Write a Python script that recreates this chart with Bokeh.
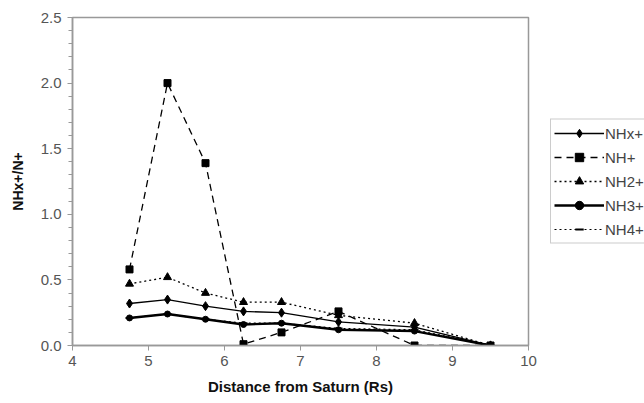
from bokeh.plotting import figure
from bokeh.models import Legend, LegendItem, FixedTicker, Range1d, PrintfTickFormatter
from bokeh.embed import file_html
from bokeh.resources import INLINE

distance = [4.75, 5.25, 5.75, 6.25, 6.75, 7.5, 8.5, 9.5]
nhx = [0.32, 0.35, 0.30, 0.26, 0.25, 0.18, 0.14, 0.0]
nh = [0.58, 2.0, 1.39, 0.01, 0.10, 0.26, 0.0, 0.0]
nh2 = [0.47, 0.52, 0.40, 0.33, 0.33, 0.23, 0.17, 0.0]
nh3 = [0.21, 0.24, 0.20, 0.16, 0.17, 0.12, 0.11, 0.0]
nh4 = [0.21, 0.24, 0.20, 0.17, 0.17, 0.13, 0.12, 0.0]

x_ticks = [4, 5, 6, 7, 8, 9, 10]
y_ticks = [0.0, 0.5, 1.0, 1.5, 2.0, 2.5]

FONT = "Liberation Sans"

p = figure(frame_width=456, frame_height=328, output_backend="svg", toolbar_location=None,
           x_range=Range1d(4, 10), y_range=Range1d(0, 2.5),
           min_border_left=72, min_border_right=0, min_border_top=17, min_border_bottom=58)
p.grid.visible = False
p.outline_line_color = "#999999"
p.outline_line_width = 1.5
p.background_fill_color = "white"
p.border_fill_color = "white"

p.xaxis.ticker = FixedTicker(ticks=x_ticks)
p.yaxis.ticker = FixedTicker(ticks=y_ticks, minor_ticks=[i / 10 for i in range(26)])
p.yaxis.formatter = PrintfTickFormatter(format="%.1f")

for ax in (p.xaxis[0], p.yaxis[0]):
    ax.axis_line_color = "#999999"
    ax.axis_line_width = 1.5
    ax.major_tick_line_color = "#999999"
    ax.minor_tick_line_color = "#999999"
    ax.major_tick_in = 0
    ax.major_tick_out = 5
    ax.minor_tick_in = 0
    ax.minor_tick_out = 4
    ax.major_label_text_font = FONT
    ax.major_label_text_font_size = "15px"
    ax.major_label_text_color = "#555555"
    ax.axis_label_text_font = FONT
    ax.axis_label_text_font_style = "bold"
    ax.axis_label_text_color = "#111111"

p.xaxis.minor_tick_out = 0
p.xaxis.major_label_standoff = 5
p.xaxis.axis_label = "Distance from Saturn (Rs)"
p.xaxis.axis_label_text_font_size = "15px"
p.xaxis.axis_label_standoff = 9
p.yaxis.axis_label = "NHx+/N+"
p.yaxis.axis_label_text_font_size = "14px"
p.yaxis.major_label_standoff = 6
p.yaxis.axis_label_standoff = 12

items = []
l1 = p.line(distance, nhx, line_color="black", line_width=1.3)
s1 = p.scatter(distance, nhx, marker="diamond", size=9, color="black")
items.append(LegendItem(label="NHx+", renderers=[l1, s1]))

l2 = p.line(distance, nh, line_color="black", line_width=1.3, line_dash="7 5")
s2 = p.scatter(distance, nh, marker="square", size=7, color="black")
items.append(LegendItem(label="NH+", renderers=[l2, s2]))

l3 = p.line(distance, nh2, line_color="black", line_width=1.3, line_dash="2 3")
s3 = p.scatter(distance, nh2, marker="triangle", size=8, color="black")
items.append(LegendItem(label="NH2+", renderers=[l3, s3]))

l4 = p.line(distance, nh3, line_color="black", line_width=2.4)
s4 = p.scatter(distance, nh3, marker="circle", size=6, color="black")
items.append(LegendItem(label="NH3+", renderers=[l4, s4]))

l5 = p.line(distance, nh4, line_color="black", line_width=1.2, line_dash="2 3")
s5 = p.scatter(distance, nh4, marker="dash", size=8, line_color="black", line_width=2)
items.append(LegendItem(label="NH4+", renderers=[l5, s5]))

legend = Legend(items=items, location="center_left", margin=22, padding=3, spacing=3,
                glyph_width=50, glyph_height=21, label_standoff=1,
                label_text_font=FONT, label_text_font_size="15px", label_text_color="#444444",
                border_line_color="#999999", border_line_width=1.2,
                background_fill_color="white")
p.add_layout(legend, "right")

open("out.html", "w").write(file_html(p, INLINE))
